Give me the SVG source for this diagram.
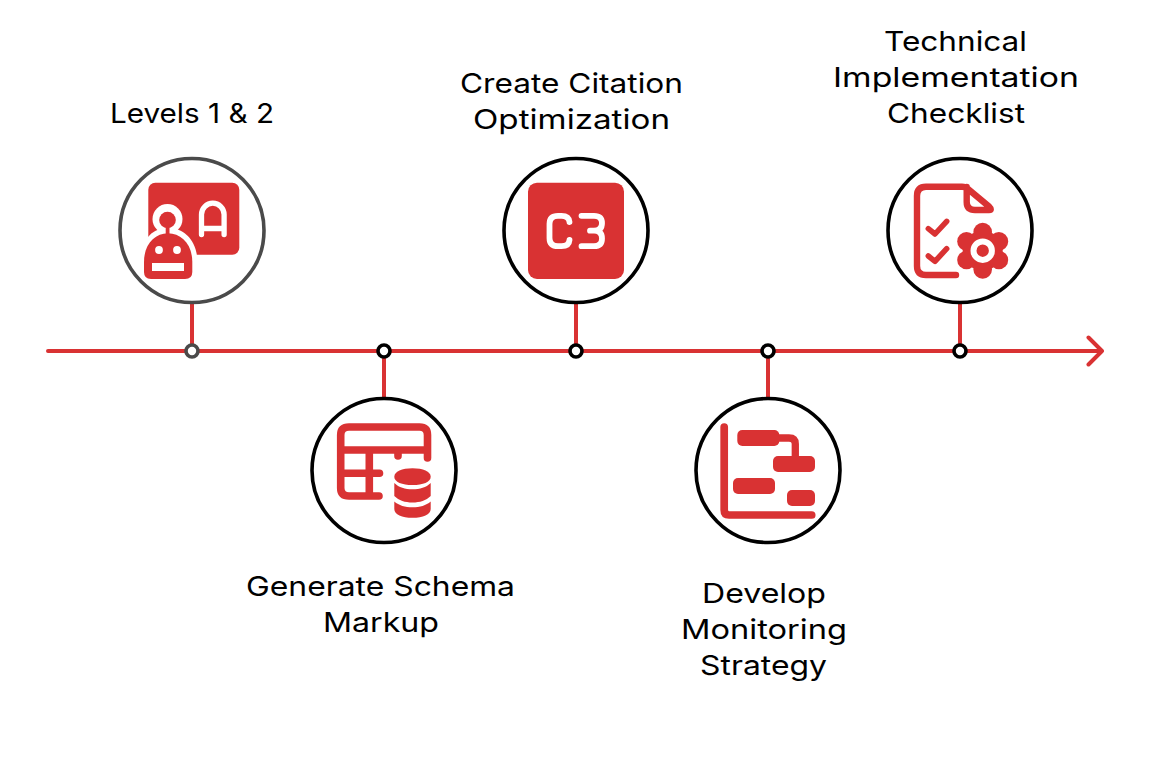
<svg xmlns="http://www.w3.org/2000/svg" width="1152" height="783" viewBox="0 0 1152 783">
<style>
.ring{fill:#fff;stroke:#000;stroke-width:3.6}
.dot{fill:#fff;stroke:#000;stroke-width:3.6}
.ln{fill:none;stroke:#d93233;stroke-width:4;stroke-linecap:round;stroke-linejoin:round}
.r{fill:#d93233}
.w{fill:#fff}
.ws{fill:none;stroke:#fff;stroke-linecap:round;stroke-linejoin:round}
.rs{fill:none;stroke:#d93233;stroke-linecap:round;stroke-linejoin:round}
text{font-family:"Inter","Open Sans","Liberation Sans",sans-serif;font-size:27.500px;fill:#000}
</style>
<rect width="1152" height="783" fill="#fff"/>
<g id="connectors">
<path class="ln" d="M48 351H1102M1088.500 337.500L1102 351L1088.500 364.500"/>
<path class="ln" style="stroke-linecap:butt" d="M192 304V346M384 356V397M576 304V346M768 356V397M960 304V346"/>
</g>
<g id="node-levels">
<circle class="ring" style="stroke:#4a4a4a" cx="192" cy="230.500" r="72"/>
<circle class="dot" style="stroke:#4a4a4a" cx="192" cy="351" r="6"/>
<rect class="r" x="148.300" y="182.700" width="91" height="72" rx="7"/>
<path class="ws" stroke-width="5.300" d="M201.500 234.500V214.500a11.300 11.300 0 0 1 22.600 0V234.500M201.500 228.500H224"/>
<circle class="w" cx="167.500" cy="219" r="15"/>
<path class="w" d="M142 262V258C142 238 153 228 168 228C184 228 197 240 197.500 262Z"/>
<circle class="r" cx="167.500" cy="220" r="8.300"/>
<rect class="r" x="165.700" y="224" width="3.800" height="11"/>
<path class="r" d="M144 262C144 244 155 233.300 168 233.300C181 233.300 192.300 244 192.300 262V272Q192.300 279 185 279H151Q144 279 144 272Z"/>
<circle class="w" cx="159" cy="250" r="3.900"/>
<circle class="w" cx="177" cy="250" r="3.900"/>
<rect class="w" x="152" y="263" width="32" height="8"/>
<text x="110" y="122.500" textLength="164" lengthAdjust="spacingAndGlyphs">Levels 1 &amp; 2</text>
</g>
<g id="node-schema">
<circle class="ring" cx="384" cy="470.500" r="72"/>
<circle class="dot" cx="384" cy="351" r="6"/>
<path class="rs" stroke-width="7.600" d="M427.500 458V435Q427.500 427 419.500 427H349Q340.700 427 340.700 435V488Q340.700 496 349 496H379M340.700 450H427.500M398 450V456M369.300 450V496M340.700 473.300H379.500"/>
<path class="r" d="M394.300 476.700C394.300 471.500 402 468.300 412.500 468.300C423 468.300 430.700 471.500 430.700 476.700C430.700 482 423 485 412.500 485C402 485 394.300 482 394.300 476.700Z"/>
<path class="r" d="M394.300 483C399 487.500 405 489.300 412.500 489.300C420 489.300 426 487.500 430.700 483V496C426 500.500 420 502.500 412.500 502.500C405 502.500 399 500.500 394.300 496Z"/>
<path class="r" d="M394.300 501.500C399 505.500 405 507.300 412.500 507.300C420 507.300 426 505.500 430.700 501.500V509C430.700 514.500 423 517.800 412.500 517.800C402 517.800 394.300 514.500 394.300 509Z"/>
<text x="246" y="595.500" textLength="269" lengthAdjust="spacingAndGlyphs">Generate Schema</text>
<text x="323" y="631.500" textLength="116" lengthAdjust="spacingAndGlyphs">Markup</text>
</g>
<g id="node-citation">
<circle class="ring" cx="576" cy="230.500" r="72"/>
<circle class="dot" cx="576" cy="351" r="6"/>
<rect class="r" x="528" y="182.700" width="96" height="96.300" rx="9"/>
<path class="ws" stroke-width="5.800" d="M569.500 222Q569 215.800 561.500 215.800H558Q549.500 215.800 549.500 224V238Q549.500 246.200 558 246.200H561.500Q569 246.200 569.500 240M581.500 215.800H594Q602 215.800 602 223Q602 230.700 594 230.700H590M594 230.700Q602 230.700 602 238.500Q602 246.200 594 246.200H581.500"/>
<text x="460" y="92.500" textLength="223" lengthAdjust="spacingAndGlyphs">Create Citation</text>
<text x="473" y="128.500" textLength="197" lengthAdjust="spacingAndGlyphs">Optimization</text>
</g>
<g id="node-monitoring">
<circle class="ring" cx="768" cy="470.500" r="72"/>
<circle class="dot" cx="768" cy="351" r="6"/>
<path class="rs" stroke-width="7.700" d="M724.200 427V510Q724.200 515 729 515H811.700"/>
<path class="rs" stroke-width="7.300" d="M775 438H789Q795.300 438 795.300 444V460"/>
<rect class="r" x="737.300" y="430" width="42" height="16" rx="5"/>
<rect class="r" x="773" y="456" width="42" height="16" rx="5"/>
<rect class="r" x="733" y="478" width="42" height="16" rx="5"/>
<rect class="r" x="787" y="490" width="28" height="16" rx="5"/>
<text x="702" y="602.500" textLength="124" lengthAdjust="spacingAndGlyphs">Develop</text>
<text x="681" y="638.500" textLength="166" lengthAdjust="spacingAndGlyphs">Monitoring</text>
<text x="700" y="674.500" textLength="127" lengthAdjust="spacingAndGlyphs">Strategy</text>
</g>
<g id="node-checklist">
<circle class="ring" cx="960" cy="230.500" r="72"/>
<circle class="dot" cx="960" cy="351" r="6"/>
<path class="rs" stroke-width="6.400" d="M956 275H926Q917 275 917 266V196Q917 186.700 926 186.700H962Q965.500 186.700 968 189L989 206.500Q992.500 210 989 210H975Q966.700 210 966.700 202V187"/>
<path class="rs" stroke-width="5.500" d="M928.300 228.700L935 234L946.700 221.300M928.300 256L935 261.300L946.700 248.700"/>
<circle class="r" cx="982.700" cy="250.700" r="20"/>
<g class="r">
<circle cx="982.700" cy="232" r="9.300"/>
<circle cx="982.700" cy="269.400" r="9.300"/>
<circle cx="998.900" cy="241.400" r="9.300"/>
<circle cx="998.900" cy="260" r="9.300"/>
<circle cx="966.500" cy="241.400" r="9.300"/>
<circle cx="966.500" cy="260" r="9.300"/>
</g>
<circle cx="982.700" cy="250.700" r="9.200" fill="none" stroke="#fff" stroke-width="6"/>
<text x="884" y="50.500" textLength="143" lengthAdjust="spacingAndGlyphs">Technical</text>
<text x="833" y="86.500" textLength="246" lengthAdjust="spacingAndGlyphs">Implementation</text>
<text x="887" y="122.500" textLength="138" lengthAdjust="spacingAndGlyphs">Checklist</text>
</g>
</svg>
